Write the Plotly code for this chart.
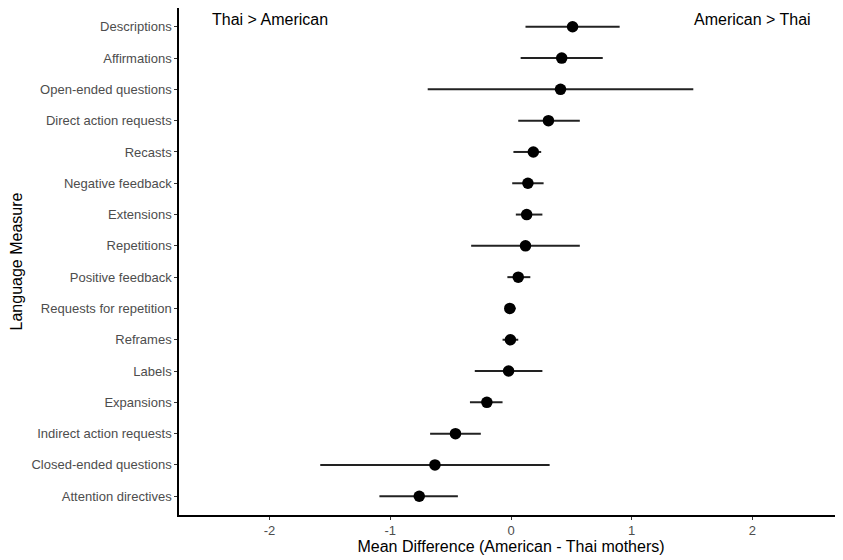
import plotly.graph_objects as go

measures = ["Descriptions", "Affirmations", "Open-ended questions", "Direct action requests",
            "Recasts", "Negative feedback", "Extensions", "Repetitions", "Positive feedback",
            "Requests for repetition", "Reframes", "Labels", "Expansions",
            "Indirect action requests", "Closed-ended questions", "Attention directives"]
mean_diff = [0.51, 0.42, 0.41, 0.31, 0.185, 0.14, 0.13, 0.12, 0.06, -0.01, -0.005, -0.02,
             -0.20, -0.46, -0.63, -0.76]
ci_low = [0.12, 0.08, -0.69, 0.06, 0.02, 0.01, 0.04, -0.33, -0.03, -0.05, -0.07, -0.30,
          -0.34, -0.67, -1.58, -1.09]
ci_high = [0.90, 0.76, 1.51, 0.57, 0.25, 0.27, 0.26, 0.57, 0.16, 0.04, 0.06, 0.26,
           -0.07, -0.25, 0.32, -0.44]
x_ticks = [-2, -1, 0, 1, 2]

err_plus = [h - m for h, m in zip(ci_high, mean_diff)]
err_minus = [m - l for m, l in zip(mean_diff, ci_low)]

FONT = "Liberation Sans, Arial, Helvetica, sans-serif"

fig = go.Figure()
fig.add_trace(go.Scatter(
    x=mean_diff, y=measures, mode="markers",
    marker=dict(color="black", size=11.5),
    error_x=dict(type="data", symmetric=False, array=err_plus, arrayminus=err_minus,
                 color="#222222", thickness=2, width=0),
    showlegend=False, hoverinfo="x+y"))

fig.add_annotation(x=-2, y="Descriptions", yshift=7, text="Thai > American", showarrow=False,
                   font=dict(family=FONT, size=16, color="black"))
fig.add_annotation(x=2, y="Descriptions", yshift=7, text="American > Thai", showarrow=False,
                   font=dict(family=FONT, size=16, color="black"))

fig.update_layout(
    width=835, height=552,
    margin=dict(l=171, r=0, t=0, b=45),
    paper_bgcolor="white", plot_bgcolor="white",
    font=dict(family=FONT, color="black"),
    xaxis=dict(range=[-2.75, 2.75], tickvals=x_ticks,
               ticktext=[str(v) for v in x_ticks], automargin=False,
               showgrid=False, zeroline=False, showline=True, linecolor="black", linewidth=1.5,
               ticks="outside", ticklen=3, tickcolor="#333333", tickwidth=1,
               tickfont=dict(size=13, color="#4D4D4D"),
               title=dict(text="Mean Difference (American - Thai mothers)",
                          font=dict(size=16, color="black"), standoff=2)),
    yaxis=dict(type="category", categoryorder="array", categoryarray=list(reversed(measures)),
               range=[-0.6, 15.6], automargin=False,
               showgrid=False, zeroline=False, showline=True, linecolor="black", linewidth=1.5,
               ticks="outside", ticklen=3, tickcolor="#333333", tickwidth=1,
               tickfont=dict(size=13, color="#4D4D4D"),
               title=dict(text="Language Measure", font=dict(size=16, color="black"), standoff=16)),
)

fig.write_html("out.html")
